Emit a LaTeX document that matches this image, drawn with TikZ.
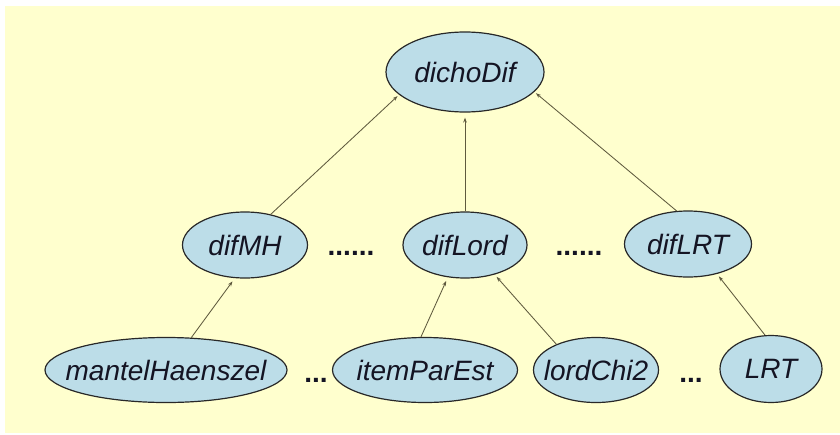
\documentclass[tikz,border=0pt]{standalone}
\usepackage{fontspec}
\setmainfont{Liberation Sans}
\usetikzlibrary{shapes.geometric,arrows.meta}
\definecolor{bgyellow}{RGB}{255,255,206}
\definecolor{ellblue}{RGB}{188,221,232}
\definecolor{ellline}{RGB}{40,40,40}
\definecolor{arrcol}{RGB}{95,90,62}
\definecolor{txtcol}{RGB}{20,20,35}
\begin{document}
\begin{tikzpicture}[x=1pt,y=-1pt,
  ell/.style={ellipse,draw=ellline,line width=1.2pt,fill=ellblue,inner sep=0pt,
    font=\fontsize{28}{31}\selectfont\itshape,text=txtcol},
  dots/.style={font=\fontsize{28}{31}\selectfont\bfseries,text=txtcol,anchor=base,inner sep=0pt},
  conn/.style={draw=arrcol,line width=0.85pt,-{Stealth[length=5pt,width=3.6pt]},shorten >=2pt}]
\useasboundingbox (0,0) rectangle (840,434);
\fill[bgyellow] (5,6) rectangle (840,433);
% nodes
\node[ell,minimum width=158,minimum height=80] (dicho) at (465,72) {\makebox[0pt]{dichoDif}};
\node[ell,minimum width=125,minimum height=66] (difMH) at (245,245) {\makebox[0pt]{difMH}};
\node[ell,minimum width=124,minimum height=66] (difLord) at (465,245) {\makebox[0pt]{difLord}};
\node[ell,minimum width=127,minimum height=66] (difLRT) at (688,244) {\makebox[0pt]{difLRT}};
\node[ell,minimum width=242,minimum height=65] (mh) at (166,370) {\makebox[0pt]{mantelHaenszel}};
\node[ell,minimum width=185,minimum height=65] (ipe) at (425,370) {\makebox[0pt]{itemParEst}};
\node[ell,minimum width=125,minimum height=65] (lc2) at (596,370) {\makebox[0pt]{lordChi2}};
\node[ell,minimum width=102,minimum height=67] (lrt) at (771,369) {\makebox[0pt]{LRT}};
% dots
\node[dots] (d1) at (351,255) {......};
\node[dots] (d2) at (579,255) {......};
\node[dots] (d3) at (316,382) {...};
\node[dots] (d4) at (691,382) {...};
% connectors
\draw[conn] (difMH.50) -- (dicho.199);
\draw[conn,shorten >=5pt] (difLord.north) -- (dicho.south);
\draw[conn] (difLRT.109) -- (dicho.-16);
\draw[conn,shorten >=4pt] (mh.52) -- (difMH.253);
\draw[conn,shorten >=4pt] (ipe.97) -- (difLord.242);
\draw[conn,shorten >=3pt] (lc2.147) -- (difLord.315);
\draw[conn,shorten >=3pt] (lrt.100) -- (difLRT.314);
\end{tikzpicture}
\end{document}
